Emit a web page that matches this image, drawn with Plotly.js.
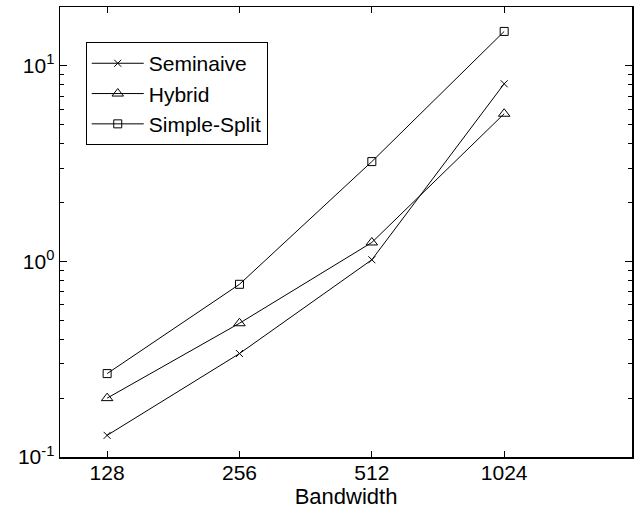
<!DOCTYPE html>
<html><head><meta charset="utf-8">
<script src="https://cdn.plot.ly/plotly-3.0.1.min.js"></script>
<style>body{margin:0;background:#fff}#c{width:637px;height:514px}</style>
</head><body><div id="c"></div>
<script>
const bandwidth = [128, 256, 512, 1024];
const seminaive = [0.129, 0.338, 1.02, 8.1];
const hybrid = [0.20, 0.483, 1.25, 5.69];
const simpleSplit = [0.267, 0.764, 3.24, 15.0];
const xTickLabels = ['128', '256', '512', '1024'];
const yTickVals = [0.1, 1, 10];
const yTickLabels = ['10<sup>-1</sup>', '10<sup>0</sup>', '10<sup>1</sup>'];

const minorVals = [];
[0.1, 1, 10].forEach(d => { for (let k = 2; k <= 9; k++) { const v = k * d; if (v <= 20) minorVals.push(v); } });

const base = {mode: 'lines+markers', line: {color: '#000', width: 1}};
const traces = [
  Object.assign({}, base, {x: bandwidth, y: seminaive, name: 'Seminaive',
    marker: {symbol: 'x-thin-open', size: 7, color: '#000', line: {color: '#000', width: 1}}}),
  Object.assign({}, base, {x: bandwidth, y: hybrid, name: 'Hybrid',
    marker: {symbol: 'triangle-up-open', size: 10, color: '#000', line: {color: '#000', width: 1}}}),
  Object.assign({}, base, {x: bandwidth, y: simpleSplit, name: 'Simple-Split',
    marker: {symbol: 'square-open', size: 8, color: '#000', line: {color: '#000', width: 1}}})
];

const ff = 'Liberation Sans, Arial, sans-serif';
const font = {family: ff, size: 21, color: '#000'};
const layout = {
  width: 637, height: 514,
  margin: {l: 60, r: 5, t: 7, b: 57},
  paper_bgcolor: '#fff', plot_bgcolor: '#fff',
  font: font,
  showlegend: true,
  legend: {x: 0.045, y: 0.922, xanchor: 'left', yanchor: 'top',
    bordercolor: '#000', borderwidth: 1, bgcolor: '#fff',
    font: {family: ff, size: 21, color: '#000'}, tracegroupgap: 0, itemwidth: 52},
  xaxis: {type: 'log', range: [2, Math.log10(2000)],
    tickvals: bandwidth, ticktext: xTickLabels,
    ticks: 'inside', ticklen: 6, tickcolor: '#000', tickwidth: 1,
    ticklabelstandoff: -4,
    showline: true, linecolor: '#000', linewidth: 1.5, mirror: 'ticks',
    showgrid: false, zeroline: false,
    tickfont: {family: ff, size: 21, color: '#000'},
    title: {text: 'Bandwidth', standoff: 0, font: {family: ff, size: 22, color: '#000'}}},
  yaxis: {type: 'log', range: [-1, Math.log10(20)],
    tickvals: yTickVals, ticktext: yTickLabels,
    ticks: 'inside', ticklen: 7, tickcolor: '#000', tickwidth: 1,
    minor: {tickvals: minorVals, ticks: 'inside', ticklen: 4, tickcolor: '#000', tickwidth: 1, showgrid: false},
    showline: true, linecolor: '#000', linewidth: 1.5, mirror: 'ticks',
    showgrid: false, zeroline: false,
    tickfont: {family: ff, size: 21, color: '#000'}}
};
Plotly.newPlot('c', traces, layout, {displayModeBar: false, staticPlot: true});
</script></body></html>
